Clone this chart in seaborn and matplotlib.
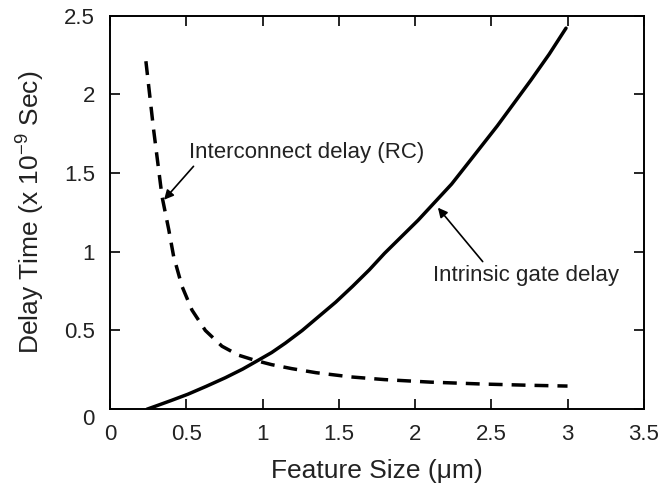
import matplotlib
matplotlib.use("Agg")
import matplotlib.pyplot as plt
import seaborn as sns
import pandas as pd

# Intrinsic gate delay (solid)
gate_x = [0.242, 0.30, 0.40, 0.51, 0.63, 0.756, 0.87, 0.97, 1.06, 1.15, 1.26, 1.37, 1.48, 1.59,
          1.70, 1.80, 1.91, 2.02, 2.13, 2.24, 2.37, 2.54, 2.65, 2.76, 2.88, 2.99]
gate_y = [0.0, 0.02, 0.055, 0.095, 0.145, 0.20, 0.255, 0.31, 0.36, 0.42, 0.50, 0.59, 0.68, 0.78,
          0.885, 0.99, 1.095, 1.20, 1.315, 1.43, 1.59, 1.80, 1.945, 2.09, 2.255, 2.42]

# Interconnect delay (RC) (dashed)
rc_x = [0.235, 0.285, 0.341, 0.385, 0.417, 0.472, 0.537, 0.625, 0.734, 0.843, 0.952, 1.06,
        1.19, 1.35, 1.58, 1.80, 2.10, 2.44, 2.75, 3.0]
rc_y = [2.21, 1.78, 1.35, 1.14, 0.97, 0.78, 0.63, 0.50, 0.40, 0.343, 0.31, 0.283,
        0.258, 0.232, 0.205, 0.188, 0.172, 0.16, 0.152, 0.147]

x_ticks = [0, 0.5, 1, 1.5, 2, 2.5, 3, 3.5]
x_tick_labels = ["0", "0.5", "1", "1.5", "2", "2.5", "3", "3.5"]
y_ticks = [0, 0.5, 1, 1.5, 2, 2.5]
y_tick_labels = ["0", "0.5", "1", "1.5", "2", "2.5"]

sns.set_theme(style="ticks")
plt.rcParams['font.family'] = ['Liberation Sans', 'DejaVu Sans']
plt.rcParams['mathtext.fontset'] = 'custom'
plt.rcParams['mathtext.rm'] = 'Liberation Sans'
plt.rcParams['mathtext.it'] = 'Liberation Sans'

fig = plt.figure(figsize=(6.63, 4.86), dpi=100)
ax = fig.add_axes([0.166, 0.158, 0.805, 0.81])

gate_df = pd.DataFrame({"x": gate_x, "y": gate_y})
rc_df = pd.DataFrame({"x": rc_x, "y": rc_y})

sns.lineplot(data=gate_df, x="x", y="y", ax=ax, color="black", linewidth=2.5, sort=False)
sns.lineplot(data=rc_df, x="x", y="y", ax=ax, color="black", linewidth=2.5, sort=False,
             linestyle=(0, (4, 2.6)))

ax.set_xlim(0, 3.5)
ax.set_ylim(0, 2.5)
ax.set_xticks(x_ticks)
ax.set_xticklabels(x_tick_labels)
ax.set_yticks(y_ticks)
ax.set_yticklabels(y_tick_labels)
ax.tick_params(direction="in", length=7, width=1.2, top=True, right=True,
               labelsize=16, colors="black", labelcolor="#222222", pad=11)
ax.get_yticklabels()[0].set_va("top")
for s in ax.spines.values():
    s.set_linewidth(1.4)
    s.set_color("black")

ax.set_xlabel("Feature Size (\u03bcm)", fontsize=19, color="#222222", labelpad=10)
ax.set_ylabel(r"Delay Time (x 10$^{\mathregular{-9}}$ Sec)", fontsize=19, color="#222222", labelpad=12)

ax.annotate("Interconnect delay (RC)", xy=(0.354, 1.33), xytext=(0.52, 1.63),
            fontsize=16, color="#222222", ha="left", va="center",
            arrowprops=dict(arrowstyle="-|>", color="black", lw=1.2, mutation_scale=14,
                            shrinkA=0, shrinkB=0, relpos=(0.03, 0.0)))
ax.annotate("Intrinsic gate delay", xy=(2.15, 1.28), xytext=(2.12, 0.85),
            fontsize=16, color="#222222", ha="left", va="center",
            arrowprops=dict(arrowstyle="-|>", color="black", lw=1.2, mutation_scale=14,
                            shrinkA=0, shrinkB=0, relpos=(0.28, 1.0)))

fig.savefig("out.png", dpi=100)
